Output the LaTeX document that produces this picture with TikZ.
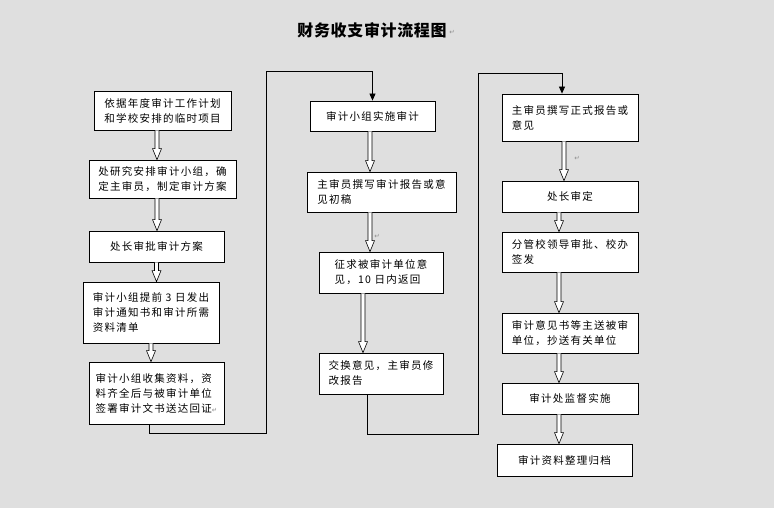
\documentclass[tikz,border=0pt]{standalone}
\usepackage{fontspec}
\usetikzlibrary{calc,arrows.meta}
\newfontfamily\cjk[LetterSpace=12]{Noto Sans CJK SC}
\newfontfamily\cjktitle[LetterSpace=4]{Noto Sans CJK SC}
\newfontfamily\markfont{DejaVu Sans}
\definecolor{canvas}{RGB}{223,223,223}
\definecolor{markgray}{RGB}{140,140,140}
\tikzset{
	box/.style={draw,fill=white,line width=0.8pt,align=left,inner sep=0pt,
		font=\cjk\fontsize{10.5pt}{15pt}\selectfont},
	heading/.style={font=\cjktitle\bfseries\fontsize{16pt}{18pt}\selectfont},
	parmark/.style={font=\markfont\fontsize{6.5pt}{7pt}\selectfont,text=markgray,inner sep=0pt},
	link/.style={line width=0.8pt,-{Triangle[width=6pt,length=7pt]}},
	hollow/.style={draw,fill=white,line width=0.6pt,to path={
		let \p1=(\tikztostart), \p2=(\tikztotarget) in
		(\x1-2pt,\y1) -- (\x1-2pt,\y2+11pt) -- (\x1-4.5pt,\y2+11pt) -- (\x1,\y2)
		-- (\x1+4.5pt,\y2+11pt) -- (\x1+2pt,\y2+11pt) -- (\x1+2pt,\y1) \tikztonodes}}
}
\begin{document}
\begin{tikzpicture}[x=1pt,y=-1pt]
			\fill[canvas] (0,0) rectangle (774,508);
			\useasboundingbox (0,0) rectangle (774,508);
			\node[heading] (title) at (372,30) {财务收支审计流程图};
			\node[parmark] (titlemark) at (452,32) {↵};
			% first column
			\node[box,minimum width=137pt,minimum height=39pt] (plan) at (162.5,110.5) {依据年度审计工作计划\\和学校安排的临时项目};
			\node[box,minimum width=147pt,minimum height=38pt] (team) at (162.5,179) {处研究安排审计小组，确\\定主审员，制定审计方案};
			\node[box,minimum width=135pt,minimum height=31pt] (approve) at (156.5,246.5) {处长审批审计方案};
			\node[box,minimum width=136pt,minimum height=61pt] (notice) at (151,312.5) {审计小组提前 3 日发出\\审计通知书和审计所需\\资料清单};
			\node[box,minimum width=135pt,minimum height=62pt] (collect) at (156.5,393) {审计小组收集资料，资\\料齐全后与被审计单位\\签署审计文书送达回证{\markfont\fontsize{6.5pt}{7pt}\selectfont\color{markgray}↵}};
			% second column
			\node[box,minimum width=125pt,minimum height=30pt] (audit) at (372.5,116) {审计小组实施审计};
			\node[box,minimum width=149pt,minimum height=40pt] (draft) at (381.5,192) {主审员撰写审计报告或意\\见初稿};
			\node[box,minimum width=124pt,minimum height=41pt] (consult) at (381,272.5) {征求被审计单位意\\见，10 日内返回};
			\node[box,minimum width=124pt,minimum height=41pt] (revise) at (381,373.5) {交换意见，主审员修\\改报告};
			\node[parmark] (draftmark) at (377,236) {↵};
			% third column
			\node[box,minimum width=136pt,minimum height=47pt] (report) at (570,117.5) {主审员撰写正式报告或\\意见};
			\node[box,minimum width=136pt,minimum height=31pt] (review) at (570,196.5) {处长审定};
			\node[box,minimum width=136pt,minimum height=40pt] (sign) at (570,252) {分管校领导审批、校办\\签发};
			\node[box,minimum width=136pt,minimum height=40pt] (deliver) at (570,333) {审计意见书等主送被审\\单位，抄送有关单位};
			\node[box,minimum width=136pt,minimum height=31pt] (supervise) at (570,398.5) {审计处监督实施};
			\node[box,minimum width=135pt,minimum height=32pt] (archive) at (564.5,460) {审计资料整理归档};
			\node[parmark] (reportmark) at (577,158) {↵};
			% hollow arrows
			\draw[hollow] ([xshift=-5.5pt]plan.south) to (team.north);
			\draw[hollow] ([xshift=-5.5pt]team.south) to (approve.north);
			\draw[hollow] (approve.south) to (notice.north);
			\draw[hollow] (notice.south) to (collect.north);
			\draw[hollow] ([xshift=-2.5pt]audit.south) to (draft.north);
			\draw[hollow] ([xshift=-11.5pt]draft.south) to (consult.north);
			\draw[hollow] ([xshift=-18pt]consult.south) to (revise.north);
			\draw[hollow] ([xshift=-6pt]report.south) to (review.north);
			\draw[hollow] ([xshift=-11pt]review.south) to (sign.north);
			\draw[hollow] ([xshift=-11pt]sign.south) to (deliver.north);
			\draw[hollow] ([xshift=-11pt]deliver.south) to (supervise.north);
			\draw[hollow] ([xshift=-11pt]supervise.south) to (archive.north);
			% column links
			\coordinate (lowA) at (266,433);
			\coordinate (highA) at (266,71);
			\coordinate (lowB) at (478,434);
			\coordinate (highB) at (478,73);
			\draw[link] ([xshift=-7.5pt]collect.south) |- (lowA) -- (highA) -| (audit.north);
			\draw[link] ([xshift=-14pt]revise.south) |- (lowB) -- (highB) -| ([xshift=-8pt]report.north);
		\end{tikzpicture}
\end{document}
